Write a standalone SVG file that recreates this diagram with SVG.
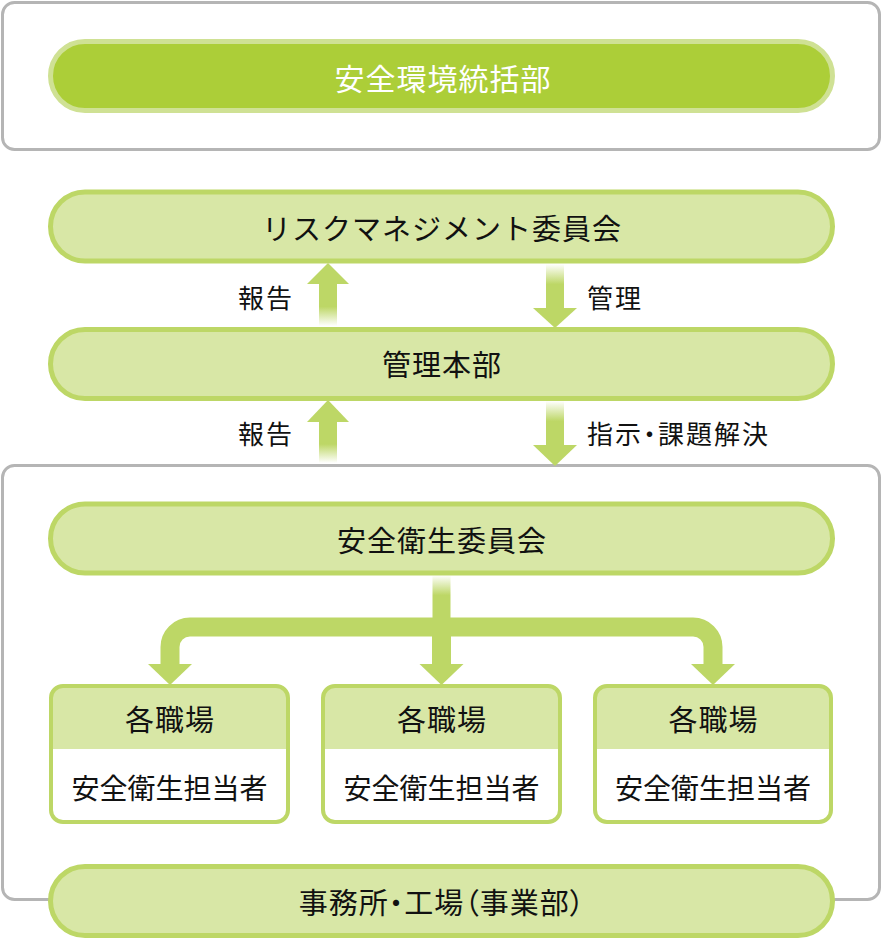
<svg xmlns="http://www.w3.org/2000/svg" width="883" height="939" viewBox="0 0 883 939">
<defs>
<style>
.frame{fill:#fff;stroke:#b5b5b5;stroke-width:3}
.pill{fill:#d8e7a6;stroke:#bdd766;stroke-width:5}
.pillDark{fill:#acce38;stroke:#cfe194;stroke-width:5}
.box{fill:none;stroke:#bdd766;stroke-width:4}
.boxHead{fill:#d8e7a6}
.t{font-family:"Noto Sans CJK JP","Noto Sans CJK SC",sans-serif;font-size:29px;letter-spacing:1px;fill:#111;text-anchor:middle;dominant-baseline:central}
.w{fill:#fff;font-size:30px}
.s{font-size:28px;letter-spacing:0}
.lbl{font-size:26px;letter-spacing:2px;text-anchor:start}
.p{font-feature-settings:"palt"}
.ar{fill:#bdd766}
</style>
<linearGradient id="fadeDown" x1="0" y1="0" x2="0" y2="1">
<stop offset="0" stop-color="#bdd766"/>
<stop offset="0.55" stop-color="#bdd766"/>
<stop offset="1" stop-color="#ffffff"/>
</linearGradient>
<linearGradient id="fadeUp" x1="0" y1="1" x2="0" y2="0">
<stop offset="0" stop-color="#bdd766"/>
<stop offset="0.55" stop-color="#bdd766"/>
<stop offset="1" stop-color="#ffffff"/>
</linearGradient>
</defs>

<rect class="frame" x="2.5" y="2.5" width="877" height="147" rx="12"/>
<rect class="frame" x="2.5" y="465.5" width="877" height="434" rx="12"/>

<g id="connectors">
<rect x="319" y="283" width="18" height="43" fill="url(#fadeDown)"/>
<polygon class="ar" points="307,284 349,284 328,263"/>
<rect x="546" y="264" width="18" height="45" fill="url(#fadeUp)"/>
<polygon class="ar" points="533,308 577,308 555,328"/>
<rect x="319" y="421" width="18" height="42" fill="url(#fadeDown)"/>
<polygon class="ar" points="307,422 349,422 328,400"/>
<rect x="546" y="401" width="18" height="45" fill="url(#fadeUp)"/>
<polygon class="ar" points="533,445 577,445 555,466"/>
<rect x="432.5" y="575" width="18" height="45" fill="url(#fadeUp)"/>
<path d="M170,665 V647 A20,20 0 0 1 190,627 H693 A20,20 0 0 1 713,647 V665 M441.5,618 V665" fill="none" stroke="#bdd766" stroke-width="19"/>
<polygon class="ar" points="148,664 192,664 170,685"/>
<polygon class="ar" points="419.5,664 463.5,664 441.5,685"/>
<polygon class="ar" points="691,664 735,664 713,685"/>
<text class="t lbl" x="238" y="296">報告</text>
<text class="t lbl" x="587" y="296">管理</text>
<text class="t lbl" x="238" y="432">報告</text>
<text class="t lbl p" x="587" y="432">指示・課題解決</text>
</g>

<g id="n_kankyo">
<rect class="pillDark" x="50.5" y="41.5" width="782" height="69" rx="34.5"/>
<text class="t w" x="443" y="77">安全環境統括部</text>
</g>

<g id="n_risk">
<rect class="pill" x="50.5" y="192" width="782" height="69" rx="34.5"/>
<text class="t" x="442" y="227">リスクマネジメント委員会</text>
</g>

<g id="n_kanri">
<rect class="pill" x="50.5" y="329.5" width="782" height="69" rx="34.5"/>
<text class="t" x="442" y="363">管理本部</text>
</g>

<g id="n_eisei">
<rect class="pill" x="50.5" y="504" width="782" height="69" rx="34.5"/>
<text class="t" x="442" y="539">安全衛生委員会</text>
</g>

<g id="n_shokuba1">
<rect x="51" y="686" width="237" height="136" rx="12" fill="#fff"/>
<path class="boxHead" d="M51,749 V698 A12,12 0 0 1 63,686 H276 A12,12 0 0 1 288,698 V749 Z"/>
<rect class="box" x="51" y="686" width="237" height="136" rx="12"/>
<text class="t" x="170" y="718">各職場</text>
<text class="t s" x="169.5" y="787">安全衛生担当者</text>
</g>

<g id="n_shokuba2">
<rect x="323" y="686" width="237" height="136" rx="12" fill="#fff"/>
<path class="boxHead" d="M323,749 V698 A12,12 0 0 1 335,686 H548 A12,12 0 0 1 560,698 V749 Z"/>
<rect class="box" x="323" y="686" width="237" height="136" rx="12"/>
<text class="t" x="442" y="718">各職場</text>
<text class="t s" x="441.5" y="787">安全衛生担当者</text>
</g>

<g id="n_shokuba3">
<rect x="595" y="686" width="236" height="136" rx="12" fill="#fff"/>
<path class="boxHead" d="M595,749 V698 A12,12 0 0 1 607,686 H819 A12,12 0 0 1 831,698 V749 Z"/>
<rect class="box" x="595" y="686" width="236" height="136" rx="12"/>
<text class="t" x="713.5" y="718">各職場</text>
<text class="t s" x="713" y="787">安全衛生担当者</text>
</g>

<g id="n_jigyosho">
<rect class="pill" x="50.5" y="866.5" width="782" height="69" rx="34.5"/>
<text class="t p" x="442" y="901">事務所・工場（事業部）</text>
</g>
</svg>
